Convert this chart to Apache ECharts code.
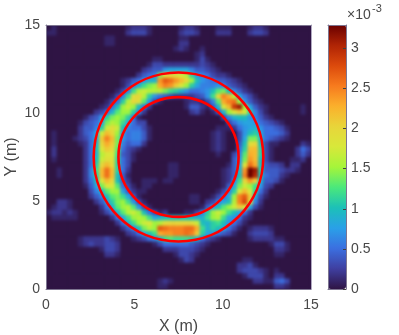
<!DOCTYPE html>
<html><head><meta charset="utf-8">
<style>html,body{margin:0;padding:0;background:#fff}#c{width:399px;height:335px}
#c canvas[data-zr-dom-id="zr_1"]{filter:blur(1.7px);clip-path:inset(25px 88px 46px 46px)}</style>
<script src="https://cdn.jsdelivr.net/npm/echarts@6/dist/echarts.min.js"></script>
</head><body><div id="c"></div>
<script>
const xTicks=[0,5,10,15];
const yTicks=[0,5,10,15];
const colorbarTicks=[0,0.5,1,1.5,2,2.5,3];
const colorbarMax=3.29;
const cellSize=0.3;
const rings=[[7.5,7.5,4.8],[7.5,7.5,3.4]];
const colorStops=["#2f1444","#3f3fa0","#3b6fe0","#2aa0e8","#1cc0b8","#4ae87c","#a5f53a","#d8e83a","#e8d53a","#fbb02c","#f77b1e","#dc4a0c","#b02405","#6a0000"];
// intensity in units of 1e-4, rows from the top (y=15) to the bottom (y=0), 50 columns each
const intensityRows=[
[0,1,0,0,0,0,0,0,0,0, 0,0,0,0,0,1,2,2,2,1, 0,0,0,0,0,1,2,2,1,0, 0,0,1,1,1,0,0,0,1,2, 2,1,0,0,0,0,0,0,0,0],
[1,1,0,0,0,0,0,0,0,0, 0,0,0,0,0,2,3,3,3,1, 0,0,0,0,0,2,3,3,2,0, 0,0,2,2,2,0,0,0,2,3, 3,2,0,0,0,0,0,0,0,0],
[0,0,0,0,0,0,0,0,0,0, 0,1,1,0,0,0,0,0,0,0, 0,0,0,0,0,1,1,0,0,0, 0,0,0,0,0,0,0,0,0,0, 0,0,0,0,0,0,0,0,0,0],
[0,0,0,0,0,0,0,0,0,0, 0,1,1,0,0,0,0,0,0,0, 0,0,0,0,0,2,2,0,0,0, 0,0,0,0,0,0,0,0,0,0, 0,0,0,0,0,0,0,0,0,0],
[0,0,0,0,0,0,0,0,0,0, 0,0,0,0,0,0,0,0,0,0, 0,0,0,0,1,2,1,0,0,1, 0,0,0,0,0,0,0,0,0,0, 0,0,0,0,0,0,0,0,0,0],
[0,0,0,0,0,0,0,0,0,0, 0,0,0,0,0,0,0,0,0,0, 0,0,0,0,0,0,0,0,1,2, 0,0,0,0,0,0,0,0,0,0, 0,0,0,0,0,0,0,0,0,0],
[0,0,0,0,0,0,0,0,0,0, 0,0,0,0,0,0,0,0,0,0, 1,1,0,0,0,0,0,0,1,3, 1,0,0,0,0,0,0,0,0,0, 0,0,0,0,0,0,0,0,0,0],
[0,0,0,0,0,0,0,0,0,0, 0,0,0,0,0,0,0,0,0,1, 3,3,2,2,2,2,2,2,2,3, 2,1,0,0,0,0,0,0,0,0, 0,0,0,0,0,0,0,0,0,0],
[0,0,0,0,0,0,0,0,0,0, 0,0,0,0,0,0,0,0,2,3, 4,4,7,8,8,8,8,6,4,4, 3,2,1,0,0,0,0,0,0,0, 0,0,0,0,0,0,0,0,0,0],
[0,0,0,0,0,0,0,0,0,0, 0,0,0,0,0,0,0,2,4,5, 6,14,19,20,19,18,16,11,7,6, 5,3,2,2,1,0,0,0,0,0, 0,0,0,0,0,0,0,0,0,0],
[0,0,0,0,0,0,0,0,0,0, 0,0,0,0,1,2,4,5,7,9, 9,24,27,26,24,22,20,15,10,7, 6,5,4,4,3,2,1,0,0,0, 0,0,0,0,0,0,0,0,0,0],
[0,0,0,0,0,0,0,0,0,0, 0,0,0,0,1,3,6,9,12,14, 15,23,25,24,21,18,15,11,8,6, 6,6,7,6,4,3,2,1,0,0, 0,0,0,0,0,0,0,0,0,0],
[0,0,0,0,0,0,0,0,0,0, 0,0,0,1,3,6,12,16,17,16, 16,16,14,12,11,9,7,5,5,6, 7,10,13,14,10,6,4,2,1,0, 0,0,0,0,0,0,0,0,0,0],
[0,0,0,0,0,0,0,0,0,0, 0,0,1,3,6,12,19,20,16,11, 7,5,4,3,2,2,2,2,3,4, 7,12,20,25,23,16,8,5,3,1, 0,0,0,0,0,0,0,0,0,0],
[0,0,0,0,0,0,0,0,0,0, 0,1,3,5,11,16,20,19,13,7, 3,1,0,0,0,0,1,2,2,1, 3,6,13,23,25,26,15,7,4,2, 1,0,0,0,0,0,0,0,0,0],
[0,0,0,0,0,0,0,0,0,0, 1,2,5,10,15,17,15,10,5,2, 0,0,0,0,0,0,1,4,4,2, 1,4,9,18,22,29,31,15,8,4, 2,1,0,0,0,0,0,0,1,0],
[0,0,0,0,0,0,0,0,0,2, 3,5,9,13,15,15,11,6,2,0, 0,0,0,0,0,0,0,2,3,1, 0,1,4,9,15,18,21,18,11,6, 3,1,0,0,0,0,0,0,1,0],
[0,0,0,0,0,0,0,1,3,4, 7,11,14,15,14,11,5,1,0,0, 0,0,0,0,0,0,0,0,0,0, 0,0,0,3,6,9,10,10,7,6, 4,2,1,0,0,0,0,0,0,0],
[0,0,0,0,0,0,1,3,4,5, 8,14,16,15,12,8,5,3,3,0, 0,0,0,0,0,0,0,0,0,0, 0,0,0,0,3,5,7,8,8,7, 5,4,3,2,1,0,0,0,0,0],
[0,0,0,0,0,0,2,4,4,6, 11,17,19,17,10,6,5,5,3,1, 0,0,0,0,0,0,0,0,0,0, 0,0,1,1,1,2,5,7,8,9, 7,5,5,4,3,1,0,0,0,0],
[0,1,0,0,0,0,2,4,5,8, 17,22,20,15,7,5,6,6,4,1, 0,0,0,0,0,0,0,0,0,0, 0,1,2,1,0,0,3,7,10,11, 8,5,5,5,4,2,0,0,0,0],
[0,1,0,0,0,1,2,3,5,9, 21,25,22,14,7,5,6,6,4,1, 0,0,0,0,0,0,0,0,0,0, 0,1,2,1,0,0,3,8,14,14, 9,5,4,3,2,1,0,0,0,0],
[0,1,0,0,0,0,1,2,5,9, 20,23,21,14,6,4,5,5,2,0, 0,0,0,0,0,0,0,0,0,0, 0,1,2,1,0,0,4,10,19,20, 10,3,1,1,0,0,0,0,2,1],
[0,2,0,0,0,0,0,2,5,10, 18,21,20,13,5,3,2,1,0,0, 0,0,0,0,0,0,0,0,0,0, 0,1,2,1,0,0,5,11,22,22, 11,3,1,0,0,0,0,2,5,3],
[0,2,0,0,0,0,0,2,5,9, 16,18,18,12,4,3,1,0,0,0, 0,0,0,0,0,0,0,0,0,0, 0,0,1,0,0,3,6,13,23,22, 11,3,1,0,0,0,0,2,4,2],
[0,1,0,0,0,0,0,2,5,10, 17,19,19,11,5,3,1,0,0,0, 0,0,0,0,0,0,0,0,0,0, 0,0,0,0,0,4,7,14,24,22, 10,3,1,0,0,0,1,1,2,0],
[0,0,0,0,0,0,0,2,5,11, 20,22,20,11,5,3,0,0,0,0, 0,0,0,1,1,0,0,0,0,0, 0,0,0,0,1,4,8,18,26,23, 10,4,3,3,2,0,2,2,0,0],
[0,0,1,0,0,0,0,2,6,12, 22,26,22,11,5,2,0,0,0,0, 0,0,0,1,1,0,0,0,0,0, 0,0,0,1,2,4,9,24,33,31, 11,4,4,4,3,2,2,1,0,0],
[0,0,1,0,0,0,0,2,6,11, 22,26,22,10,4,1,0,0,0,0, 0,0,0,1,1,0,0,0,0,0, 0,0,0,1,2,4,10,25,33,30, 10,5,4,4,2,1,0,0,0,0],
[0,0,0,0,0,0,0,2,5,10, 18,22,20,10,4,2,0,0,1,1, 1,0,1,1,0,0,0,0,0,0, 0,0,0,1,2,6,12,20,24,21, 9,4,4,3,1,0,0,0,0,0],
[0,0,0,0,0,0,0,1,4,8, 14,18,18,13,5,3,1,0,1,1, 0,0,0,0,0,0,0,0,0,0, 0,0,0,1,4,8,14,17,15,12, 7,3,2,0,0,0,0,0,0,0],
[0,0,0,0,0,0,0,0,3,6, 9,13,15,15,8,4,2,1,1,0, 0,0,0,0,0,0,0,0,0,0, 0,0,1,3,6,11,18,22,18,11, 5,2,0,0,0,0,0,0,0,0],
[0,0,0,0,0,0,0,0,2,4, 6,10,13,14,12,8,4,1,0,0, 0,0,0,0,0,0,0,1,1,0, 0,1,3,5,8,15,25,27,21,8, 3,1,0,0,0,0,0,0,0,0],
[0,0,2,2,1,0,0,0,0,2, 4,7,11,14,15,12,7,3,1,0, 0,0,0,0,0,0,0,1,1,0, 2,3,6,8,10,16,25,28,19,6, 2,0,0,0,0,0,0,0,0,0],
[0,1,2,2,1,0,0,0,0,0, 2,5,9,13,15,16,13,7,3,1, 0,0,0,0,0,0,0,0,0,1, 4,7,10,13,15,17,21,18,8,3, 1,0,0,0,0,0,0,0,0,0],
[1,2,2,1,2,1,0,0,0,0, 1,3,5,9,13,16,17,15,10,5, 3,1,2,0,0,0,1,1,3,6, 11,15,17,15,12,10,8,5,2,0, 0,0,0,0,0,0,0,0,0,0],
[0,1,1,1,1,1,0,0,0,0, 0,0,2,5,8,12,15,16,15,12, 8,9,10,10,10,10,10,10,9,9, 12,15,16,12,8,7,5,2,1,0, 0,0,0,0,0,0,0,0,0,0],
[0,0,0,0,0,0,0,0,0,0, 0,0,0,2,5,9,12,15,17,18, 15,16,19,20,20,20,20,19,17,10, 9,11,12,10,7,5,3,1,0,0, 0,0,0,0,0,0,0,0,0,0],
[0,0,0,0,0,0,0,0,0,0, 0,0,0,0,2,4,6,10,14,16, 15,27,26,25,25,25,26,26,23,12, 9,11,10,8,5,3,1,0,1,2, 2,2,1,0,0,0,0,0,0,0],
[0,0,0,0,0,0,0,0,0,0, 0,0,0,0,0,2,3,5,8,10, 12,23,24,24,25,25,26,25,21,11, 8,7,5,4,3,1,0,0,2,3, 3,3,2,0,0,0,0,0,0,0],
[0,0,0,0,0,0,1,2,2,2, 2,3,2,1,0,0,1,2,3,5, 6,9,12,13,12,12,12,11,9,5, 3,2,1,0,0,0,0,0,1,2, 2,2,2,1,1,0,0,0,0,0],
[0,0,0,0,0,0,1,2,3,2, 2,3,3,2,0,0,0,0,0,0, 1,3,5,5,5,5,5,4,3,2, 1,0,0,0,0,0,0,0,0,0, 0,0,1,3,3,1,0,0,0,0],
[0,0,0,0,0,0,0,0,0,0, 1,3,3,2,0,0,0,0,0,0, 0,0,2,2,2,3,3,3,2,1, 0,0,0,0,0,0,0,0,0,0, 0,0,0,2,2,1,0,0,0,0],
[0,0,0,0,0,0,0,0,0,0, 0,2,2,1,0,0,0,0,0,0, 0,0,0,0,1,3,3,2,1,0, 0,0,0,0,0,0,0,0,0,0, 0,0,0,1,1,0,0,0,0,0],
[0,0,0,0,0,0,0,0,0,0, 0,0,0,0,0,0,0,0,0,0, 0,0,0,0,0,1,3,2,0,0, 0,0,0,0,0,0,0,1,1,0, 0,0,0,0,0,0,0,0,0,0],
[0,0,0,0,0,0,0,0,0,0, 0,0,0,0,0,0,0,0,0,0, 0,0,0,0,0,0,0,0,0,0, 0,0,0,0,0,0,2,2,3,1, 0,0,0,0,0,0,0,0,0,0],
[0,0,0,0,0,0,0,0,0,0, 0,0,0,0,0,0,0,0,0,0, 0,0,0,0,0,0,0,0,0,0, 0,0,0,0,0,0,2,3,3,3, 2,1,0,1,0,0,0,0,0,0],
[0,0,0,0,0,0,0,0,0,0, 0,0,0,0,0,0,0,0,0,0, 0,0,0,0,0,0,0,0,0,0, 0,0,0,0,0,0,0,1,3,3, 3,1,0,2,2,0,0,0,0,0],
[0,0,0,0,0,0,0,0,0,0, 0,0,0,0,0,0,0,0,0,0, 0,1,2,1,0,0,0,0,0,0, 0,0,0,0,0,0,0,0,0,2, 2,1,1,4,5,3,0,0,0,0],
[0,0,0,0,0,0,0,0,0,0, 0,0,0,0,0,0,0,0,0,0, 0,1,1,0,0,0,0,0,0,0, 0,0,0,0,0,0,0,0,0,0, 0,0,0,2,2,1,0,0,0,0]
];
const cells=[];
intensityRows.forEach((row,r)=>row.forEach((v,c)=>{
  cells.push([c*cellSize,15-(r+1)*cellSize,v]);
}));
const chart=echarts.init(document.getElementById('c'),null,{renderer:'canvas'});
const textCol='#484848', boxCol='#7d7590', font='"Liberation Sans",Arial,sans-serif';
const labelStyle={color:textCol,fontSize:14,fontFamily:font};
const axisLayer={zlevel:2,z:5};
chart.setOption({
  animation:false,
  backgroundColor:'#fff',
  grid:[{left:46,top:25,width:265,height:264,outerBoundsMode:'none',show:true,borderWidth:0,backgroundColor:colorStops[0]},
        {left:328,top:25,width:18,height:264,outerBoundsMode:'none'}],
  visualMap:{
    type:'continuous',seriesIndex:0,dimension:2,min:0,max:colorbarMax*10,
    left:328,top:25,itemWidth:18,itemHeight:264,padding:0,
    calculable:false,realtime:false,hoverLink:false,showLabel:false,text:null,
    inRange:{color:colorStops}
  },
  xAxis:[
    {...axisLayer,gridIndex:0,type:'value',min:0,max:15,interval:xTicks[1]-xTicks[0],position:'bottom',
     name:'X (m)',nameLocation:'middle',nameGap:30,nameMoveOverlap:false,nameTextStyle:{color:textCol,fontSize:16,fontFamily:font},
     axisLine:{show:true,onZero:false,lineStyle:{color:boxCol}},axisTick:{show:false},splitLine:{show:false},
     axisLabel:Object.assign({margin:9},labelStyle)},
    {...axisLayer,gridIndex:0,type:'value',min:0,max:15,position:'top',
     axisLine:{show:true,onZero:false,lineStyle:{color:boxCol}},axisTick:{show:false},splitLine:{show:false},axisLabel:{show:false}},
    {...axisLayer,gridIndex:1,type:'value',min:0,max:1,position:'bottom',
     axisLine:{show:true,onZero:false,lineStyle:{color:boxCol}},axisTick:{show:false},splitLine:{show:false},axisLabel:{show:false}},
    {...axisLayer,gridIndex:1,type:'value',min:0,max:1,position:'top',
     axisLine:{show:true,onZero:false,lineStyle:{color:boxCol}},axisTick:{show:false},splitLine:{show:false},axisLabel:{show:false}}
  ],
  yAxis:[
    {...axisLayer,gridIndex:0,type:'value',min:0,max:15,interval:yTicks[1]-yTicks[0],position:'left',
     name:'Y (m)',nameLocation:'middle',nameGap:26,nameMoveOverlap:false,nameRotate:90,nameTextStyle:{color:textCol,fontSize:16,fontFamily:font},
     axisLine:{show:true,onZero:false,lineStyle:{color:boxCol}},axisTick:{show:false},splitLine:{show:false},
     axisLabel:Object.assign({margin:6},labelStyle)},
    {...axisLayer,gridIndex:0,type:'value',min:0,max:15,position:'right',
     axisLine:{show:true,onZero:false,lineStyle:{color:'#b0a8c0'}},axisTick:{show:false},splitLine:{show:false},axisLabel:{show:false}},
    {...axisLayer,gridIndex:1,type:'value',min:0,max:colorbarMax,position:'right',
     axisLine:{show:true,onZero:false,lineStyle:{color:boxCol}},
     axisTick:{show:true,inside:true,length:3,lineStyle:{color:'#404040'},customValues:colorbarTicks},splitLine:{show:false},
     axisLabel:Object.assign({margin:5,customValues:colorbarTicks},labelStyle)},
    {...axisLayer,gridIndex:1,type:'value',min:0,max:colorbarMax,position:'left',
     axisLine:{show:true,onZero:false,lineStyle:{color:boxCol}},axisTick:{show:false},splitLine:{show:false},axisLabel:{show:false}}
  ],
  graphic:[
    {type:'text',left:347,top:8,z:10,style:{text:'×10',fill:textCol,font:'14px '+font}},
    {type:'text',left:372,top:3,z:10,style:{text:'-3',fill:textCol,font:'11px '+font}}
  ],
  series:[
    {type:'custom',xAxisIndex:0,yAxisIndex:0,coordinateSystem:'cartesian2d',data:cells,zlevel:1,
     encode:{x:0,y:1},clip:true,progressive:0,silent:true,
     renderItem:function(params,api){
       const a=api.coord([api.value(0),api.value(1)+cellSize]);
       const b=api.coord([api.value(0)+cellSize,api.value(1)]);
       return {type:'rect',shape:{x:a[0],y:a[1],width:b[0]-a[0]+0.6,height:b[1]-a[1]+0.6},
               style:{fill:api.visual('color')}};
     }},
    {type:'custom',xAxisIndex:0,yAxisIndex:0,coordinateSystem:'cartesian2d',data:rings,zlevel:2,z:4,silent:true,
     encode:{x:0,y:1},
     renderItem:function(params,api){
       const c=api.coord([api.value(0),api.value(1)]);
       const s=api.size([api.value(2),api.value(2)]);
       return {type:'ellipse',shape:{cx:c[0],cy:c[1],rx:s[0],ry:s[1]},
               style:{fill:null,stroke:'#ff0000',lineWidth:2.6}};
     }}
  ]
});
</script></body></html>
